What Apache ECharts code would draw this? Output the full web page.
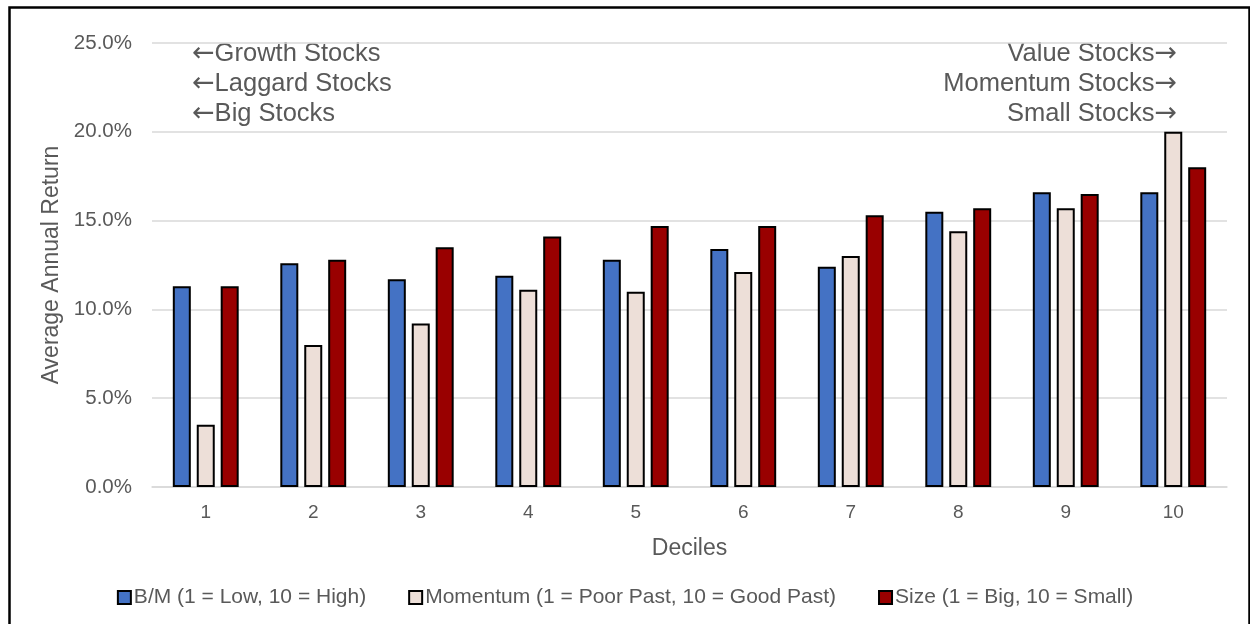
<!DOCTYPE html>
<html>
<head>
<meta charset="utf-8">
<script src="https://cdn.jsdelivr.net/npm/echarts@6/dist/echarts.min.js"></script>
<style>
  html, body { margin: 0; padding: 0; background: #fff; }
  #chart { width: 1250px; height: 624px; }
</style>
</head>
<body>
<div id="chart"></div>
<script>
var deciles = ["1", "2", "3", "4", "5", "6", "7", "8", "9", "10"];
var bmReturns = [11.3, 12.6, 11.7, 11.9, 12.8, 13.4, 12.4, 15.5, 16.6, 16.6];
var momReturns = [3.5, 8.0, 9.2, 11.1, 11.0, 12.1, 13.0, 14.4, 15.7, 20.0];
var sizeReturns = [11.3, 12.8, 13.5, 14.1, 14.7, 14.7, 15.3, 15.7, 16.5, 18.0];
var seriesNames = [
    "B/M (1 = Low, 10 = High)",
    "Momentum (1 = Poor Past, 10 = Good Past)",
    "Size (1 = Big, 10 = Small)"
];
var leftNotes = ["Growth Stocks", "Laggard Stocks", "Big Stocks"];
var rightNotes = ["Value Stocks", "Momentum Stocks", "Small Stocks"];

var txt = "#595959";
var font = "'Liberation Sans', Arial, sans-serif";

function barSeries(name, data, color) {
    return {
        name: name,
        type: "bar",
        data: data,
        barWidth: 18,
        barGap: "33%",
        itemStyle: { color: color, borderColor: "#000", borderWidth: 2 }
    };
}

// arrows drawn in DejaVu Sans, it has a longer arrow than Liberation
var noteRich = {
    a: { fontFamily: "'DejaVu Sans'", fontSize: 27, fill: txt, verticalAlign: "middle", lineHeight: 30 },
    t: { fontFamily: font, fontSize: 25.5, fill: txt, verticalAlign: "middle", lineHeight: 30 }
};
var notes = [];
leftNotes.forEach(function (t, i) {
    notes.push({
        type: "text", left: 192, top: 40 + i * 30,
        style: { text: "{a|\u2190}{t|" + t + "}", rich: noteRich }
    });
});
rightNotes.forEach(function (t, i) {
    notes.push({
        type: "text", right: 73, top: 40 + i * 30,
        style: { text: "{t|" + t + "}{a|\u2192}", rich: noteRich, align: "right" }
    });
});
// outer frame
notes.push({
    type: "rect", left: 7, top: 5,
    shape: { width: 1240, height: 630 },
    style: { fill: "none", stroke: "#000", lineWidth: 2.5 }
});

var chart = echarts.init(document.getElementById("chart"));
chart.setOption({
    animation: false,
    backgroundColor: "#fff",
    textStyle: { fontFamily: font },
    grid: { left: 152, right: 23, top: 43, bottom: 137 },
    legend: {
        left: "center",
        top: 582,
        itemWidth: 13,
        itemHeight: 13,
        itemGap: 42,
        icon: "rect",
        textStyle: { color: txt, fontSize: 21, fontFamily: font, padding: [0, 0, 0, -2] },
        data: seriesNames
    },
    xAxis: {
        type: "category",
        data: deciles,
        name: "Deciles",
        nameLocation: "middle",
        nameGap: 50,
        nameTextStyle: { color: txt, fontSize: 23 },
        axisLine: { lineStyle: { color: "#d9d9d9", width: 1.5 } },
        axisTick: { show: false },
        axisLabel: { color: txt, fontSize: 19, margin: 16 }
    },
    yAxis: {
        type: "value",
        min: 0,
        max: 25,
        interval: 5,
        name: "Average Annual Return",
        nameLocation: "middle",
        nameGap: 86,
        nameTextStyle: { color: txt, fontSize: 23 },
        axisLine: { show: false },
        axisTick: { show: false },
        splitLine: { lineStyle: { color: "#d9d9d9", width: 1.5 } },
        axisLabel: {
            color: txt, fontSize: 20.5, margin: 20,
            formatter: function (v) { return v.toFixed(1) + "%"; }
        }
    },
    graphic: notes,
    series: [
        barSeries(seriesNames[0], bmReturns, "#4472c4"),
        barSeries(seriesNames[1], momReturns, "#eddfd8"),
        barSeries(seriesNames[2], sizeReturns, "#990000")
    ]
});
</script>
</body>
</html>
